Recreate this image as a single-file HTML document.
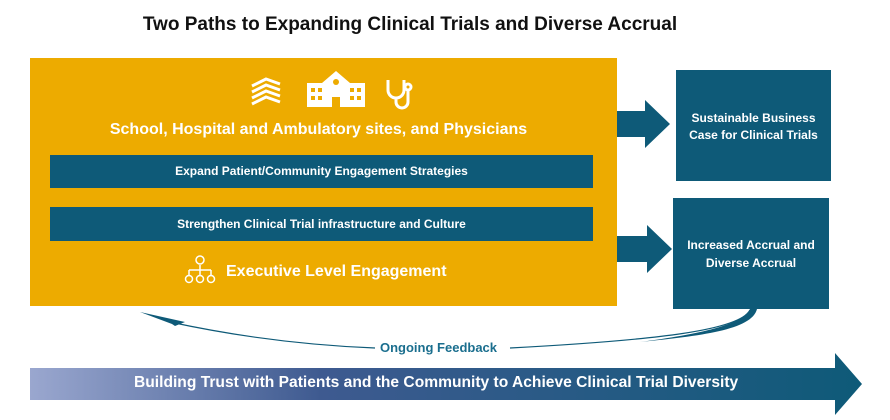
<!DOCTYPE html>
<html><head><meta charset="utf-8"><style>
body{margin:0;width:890px;height:420px;background:#fff;position:relative;overflow:hidden;font-family:"Liberation Sans",sans-serif;font-weight:bold}
.a{position:absolute}
.t{color:#fff;text-align:center}
</style></head><body>
<div class="a" style="left:0;width:820px;top:14px;text-align:center;font-size:19px;color:#111">Two Paths to Expanding Clinical Trials and Diverse Accrual</div>
<div class="a" style="left:30px;top:58px;width:587px;height:248px;background:#EDAB00"></div>
<svg class="a" style="left:0;top:0" width="890" height="420">
<defs><linearGradient id="g" x1="0" x2="1"><stop offset="0" stop-color="#9aa7cf"/><stop offset="0.35" stop-color="#3e5a90"/><stop offset="1" stop-color="#0e5a78"/></linearGradient></defs>
<g fill="none" stroke="#fff" stroke-width="3">
<path d="M252 92 l14 -7 l14 5 M252 98 l14 -7 l14 5 M252 104 l14 -7 l14 5 M252 86 l14 -7 l14 5"/>
<path d="M388 80 v10 a8 8 0 0 0 16 0 v-10 M396 98 v4 a6 6 0 0 0 12 0 v-12"/><circle cx="408" cy="87" r="3"/>
</g>
<path fill="#fff" d="M307 83 h15 l14 -12 l14 12 h15 v24 h-58z"/>
<g fill="#EDAB00"><rect x="311" y="88" width="4" height="4"/><rect x="318" y="88" width="4" height="4"/><rect x="350" y="88" width="4" height="4"/><rect x="357" y="88" width="4" height="4"/><rect x="311" y="96" width="4" height="4"/><rect x="318" y="96" width="4" height="4"/><rect x="350" y="96" width="4" height="4"/><rect x="357" y="96" width="4" height="4"/><rect x="332" y="97" width="8" height="10"/><circle cx="336" cy="82" r="3"/></g>
<g fill="none" stroke="#fff" stroke-width="1.5"><circle cx="200" cy="260" r="4"/><path d="M200 265v5M189 270h22M189 270v5M200 270v5M211 270v5"/><circle cx="189" cy="279" r="3.5"/><circle cx="200" cy="279" r="3.5"/><circle cx="211" cy="279" r="3.5"/></g>
<path fill="#0E5A78" d="M617 111 h28 v-11 l25 24 l-25 24 v-11 h-28z"/>
<path fill="#0E5A78" d="M617 236 h30 v-11 l25 24 l-25 24 v-11 h-30z"/>
<path fill="none" stroke="#0E5A78" stroke-width="1.2" d="M750 310 C740 330 660 340 510 348 M375 348 C300 345 230 335 170 322"/>
<path fill="#0E5A78" d="M750 309 l7 0 C752 330 700 336 640 342 C700 334 742 325 750 309z M140 312 l45 10 l-10 4 l-3 -2z"/>
<path fill="url(#g)" d="M30 368 h805 v-15 l27 31 l-27 31 v-15 h-805z"/>
</svg>
<div class="a t" style="left:30px;width:577px;top:121px;font-size:16px">School, Hospital and Ambulatory sites, and Physicians</div>
<div class="a t" style="left:50px;top:155px;width:543px;height:33px;line-height:33px;background:#0E5A78;font-size:12px">Expand Patient/Community Engagement Strategies</div>
<div class="a t" style="left:50px;top:207px;width:543px;height:34px;line-height:34px;background:#0E5A78;font-size:12px">Strengthen Clinical Trial infrastructure and Culture</div>
<div class="a" style="left:226px;top:263px;font-size:16px;color:#fff">Executive Level Engagement</div>
<div class="a t" style="left:676px;top:70px;width:155px;height:111px;background:#0E5A78;font-size:12px;line-height:17px;box-sizing:border-box;padding-top:40px">Sustainable Business<br>Case for Clinical Trials</div>
<div class="a t" style="left:673px;top:198px;width:156px;height:111px;background:#0E5A78;font-size:12px;line-height:18px;box-sizing:border-box;padding-top:38px">Increased Accrual and<br>Diverse Accrual</div>
<div class="a" style="left:380px;top:340px;font-size:13px;color:#1a6e8e">Ongoing Feedback</div>
<div class="a" style="left:134px;top:374px;font-size:15.6px;color:#fff">Building Trust with Patients and the Community to Achieve Clinical Trial Diversity</div>
</body></html>
